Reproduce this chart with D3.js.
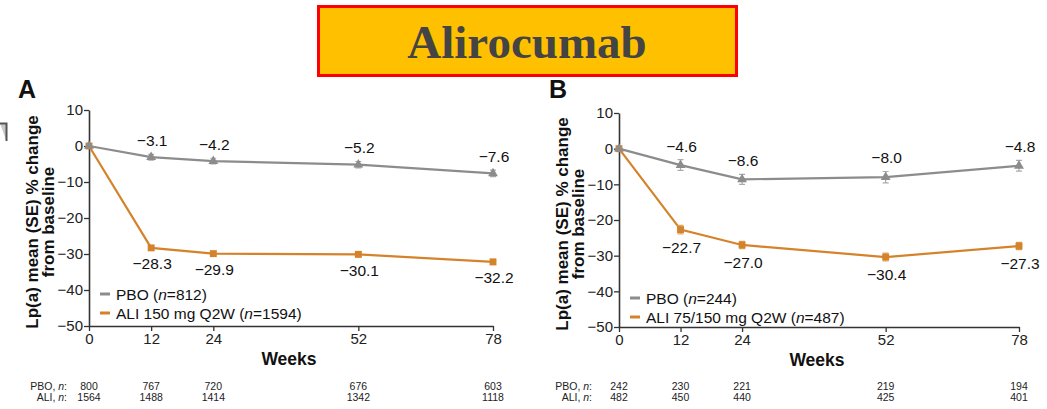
<!DOCTYPE html>
<html>
<head>
<meta charset="utf-8">
<script src="https://cdn.jsdelivr.net/npm/d3@7/dist/d3.min.js"></script>
<style>
  html, body { margin: 0; padding: 0; background: #fff; }
  svg { display: block; font-family: "Liberation Sans", Arial, sans-serif; }
</style>
</head>
<body>
<svg id="chart" width="1047" height="409"></svg>
<script>
const weeks = [0, 12, 24, 52, 78];
const yTicks = [10, 0, -10, -20, -30, -40, -50];

// panel A
const pboA = [0, -3.1, -4.2, -5.2, -7.6];
const pboSeA = [0, 0.8, 0.8, 0.9, 0.9];
const aliA = [0, -28.3, -29.9, -30.1, -32.2];
const aliSeA = [0, 0.6, 0.6, 0.7, 0.7];
const pboNA = [800, 767, 720, 676, 603];
const aliNA = [1564, 1488, 1414, 1342, 1118];
const legendNA = [812, 1594];

// panel B
const pboB = [0, -4.6, -8.6, -8.0, -4.8];
const pboSeB = [0, 1.5, 1.4, 1.6, 1.5];
const aliB = [0, -22.7, -27.0, -30.4, -27.3];
const aliSeB = [0, 1.2, 1.0, 1.1, 1.0];
const pboNB = [242, 230, 221, 219, 194];
const aliNB = [482, 450, 440, 425, 401];
const legendNB = [244, 487];

const GRAY = '#8c8c8c';
const ORANGE = '#d4832b';
const fmt = (v) => v.toFixed(1).replace('-', '\u2212');

const svg = d3.select('#chart');

// title box
svg.append('rect')
  .attr('x', 318.5).attr('y', 6.5).attr('width', 418).attr('height', 69)
  .attr('fill', '#ffc000').attr('stroke', '#ff0000').attr('stroke-width', 3);
svg.append('text')
  .attr('x', 527).attr('y', 58)
  .attr('text-anchor', 'middle')
  .attr('font-family', '"Liberation Serif", "DejaVu Serif", serif')
  .attr('font-weight', 'bold')
  .attr('font-size', 47)
  .attr('fill', '#444')
  .text('Alirocumab');

// stray fragment at the left edge
svg.append('path')
  .attr('d', 'M0,123.5 H6.5 V141')
  .attr('fill', '#c8c8c8').attr('stroke', '#555').attr('stroke-width', 2);

function drawPanel(cfg) {
  const g = svg.append('g');
  const x = d3.scaleLinear().domain([0, 78]).range(cfg.xRange);
  const y = d3.scaleLinear().domain([-50, 10]).range(cfg.yRange);

  g.append('text')
    .attr('x', cfg.letterX).attr('y', 98)
    .attr('font-size', 25).attr('font-weight', 'bold').attr('fill', '#111')
    .text(cfg.letter);

  const yAxis = g.append('g')
    .attr('transform', `translate(${cfg.xRange[0]},0)`)
    .call(d3.axisLeft(y).tickValues(yTicks).tickSize(5).tickSizeOuter(0)
      .tickFormat((d) => String(d).replace('-', '\u2212')));
  const xAxis = g.append('g')
    .attr('transform', `translate(0,${cfg.yRange[0]})`)
    .call(d3.axisBottom(x).tickValues(weeks).tickSize(5).tickSizeOuter(0));
  [yAxis, xAxis].forEach((a) => {
    a.select('.domain').attr('stroke', '#333').attr('stroke-width', 1.6);
    a.selectAll('.tick line').attr('stroke', '#333').attr('stroke-width', 1.3);
    a.selectAll('.tick text')
      .attr('font-family', '"Liberation Sans", Arial, sans-serif')
      .attr('font-size', 15).attr('fill', '#222');
  });
  yAxis.selectAll('.tick text').attr('x', -6);
  xAxis.selectAll('.tick text').attr('y', 7);

  const midX = (cfg.xRange[0] + cfg.xRange[1]) / 2 - 2;
  g.append('text')
    .attr('x', midX).attr('y', cfg.yRange[0] + 39)
    .attr('text-anchor', 'middle')
    .attr('font-size', 17.5).attr('font-weight', 'bold').attr('fill', '#111')
    .text('Weeks');

  const yTitle = g.append('text')
    .attr('transform', `translate(${cfg.titleX},${cfg.titleY}) rotate(-90)`)
    .attr('text-anchor', 'middle')
    .attr('font-size', 17).attr('font-weight', 'bold').attr('fill', '#111');
  yTitle.append('tspan').attr('x', 0).attr('y', 0).text('Lp(a) mean (SE) % change');
  yTitle.append('tspan').attr('x', 0).attr('y', 16).text('from baseline');

  const series = [
    { vals: cfg.ali, se: cfg.aliSe, color: ORANGE, marker: d3.symbolSquare, size: 48, above: false, lightColor: '#e0a765' },
    { vals: cfg.pbo, se: cfg.pboSe, color: GRAY, marker: d3.symbolTriangle, size: 42, above: true, lightColor: '#aaaaaa' }
  ];

  series.forEach((s) => {
    const pts = weeks.map((w, i) => ({ w, v: s.vals[i], se: s.se[i] }));
    g.append('path')
      .datum(pts)
      .attr('fill', 'none').attr('stroke', s.color).attr('stroke-width', 2.2)
      .attr('d', d3.line().x((d) => x(d.w)).y((d) => y(d.v)));

    const eb = g.append('g');
    pts.filter((d) => d.se > 0).forEach((d) => {
      const cx = x(d.w);
      eb.append('path')
        .attr('d', `M${cx - 3},${y(d.v + d.se)}H${cx + 3}M${cx},${y(d.v + d.se)}V${y(d.v - d.se)}M${cx - 3},${y(d.v - d.se)}H${cx + 3}`)
        .attr('stroke', s.lightColor).attr('stroke-width', 1.2).attr('fill', 'none');
    });

    g.append('g').selectAll('path')
      .data(pts)
      .join('path')
      .attr('transform', (d) => `translate(${x(d.w)},${y(d.v)})`)
      .attr('d', d3.symbol().type(s.marker).size(s.size))
      .attr('fill', s.color);

    g.append('g').selectAll('text')
      .data(pts.slice(1))
      .join('text')
      .attr('x', (d) => x(d.w) + 1)
      .attr('y', (d) => s.above ? y(d.v + d.se) - 8 : y(d.v - d.se) + 19)
      .attr('text-anchor', 'middle')
      .attr('font-size', 15.5).attr('fill', '#111')
      .text((d) => fmt(d.v));
  });

  // legend
  const legend = [
    { label: cfg.pboLabel, color: GRAY, n: cfg.legendN[0] },
    { label: cfg.aliLabel, color: ORANGE, n: cfg.legendN[1] }
  ];
  legend.forEach((l, i) => {
    const ly = cfg.legendY + i * 19;
    g.append('line')
      .attr('x1', cfg.legendX).attr('x2', cfg.legendX + 10)
      .attr('y1', ly).attr('y2', ly)
      .attr('stroke', l.color).attr('stroke-width', 3);
    const t = g.append('text')
      .attr('x', cfg.legendX + 16).attr('y', ly + 5.5)
      .attr('font-size', 15.5).attr('fill', '#111');
    t.append('tspan').text(l.label + ' (');
    t.append('tspan').attr('font-style', 'italic').text('n');
    t.append('tspan').text('=' + l.n + ')');
  });

  // n at risk table
  const rows = [
    { name: 'PBO', vals: cfg.pboN, yy: 390 },
    { name: 'ALI', vals: cfg.aliN, yy: 401 }
  ];
  rows.forEach((r) => {
    const lab = g.append('text')
      .attr('x', cfg.tableLabelX).attr('y', r.yy)
      .attr('text-anchor', 'end').attr('font-size', 10.5).attr('fill', '#222');
    lab.append('tspan').text(r.name + ', ');
    lab.append('tspan').attr('font-style', 'italic').text('n');
    lab.append('tspan').text(':');
    g.append('g').selectAll('text')
      .data(r.vals)
      .join('text')
      .attr('x', (d, i) => x(weeks[i]))
      .attr('y', r.yy)
      .attr('text-anchor', 'middle').attr('font-size', 10.5).attr('fill', '#222')
      .text((d) => d);
  });
}

drawPanel({
  letter: 'A', letterX: 18,
  xRange: [89, 493], yRange: [326, 110],
  titleX: 38, titleY: 222,
  pbo: pboA, pboSe: pboSeA, ali: aliA, aliSe: aliSeA,
  pboN: pboNA, aliN: aliNA, legendN: legendNA,
  pboLabel: 'PBO', aliLabel: 'ALI 150 mg Q2W',
  legendX: 100, legendY: 294, tableLabelX: 67
});

drawPanel({
  letter: 'B', letterX: 549,
  xRange: [619, 1019], yRange: [327, 113],
  titleX: 568, titleY: 224,
  pbo: pboB, pboSe: pboSeB, ali: aliB, aliSe: aliSeB,
  pboN: pboNB, aliN: aliNB, legendN: legendNB,
  pboLabel: 'PBO', aliLabel: 'ALI 75/150 mg Q2W',
  legendX: 630, legendY: 298, tableLabelX: 592
});
</script>
</body>
</html>
